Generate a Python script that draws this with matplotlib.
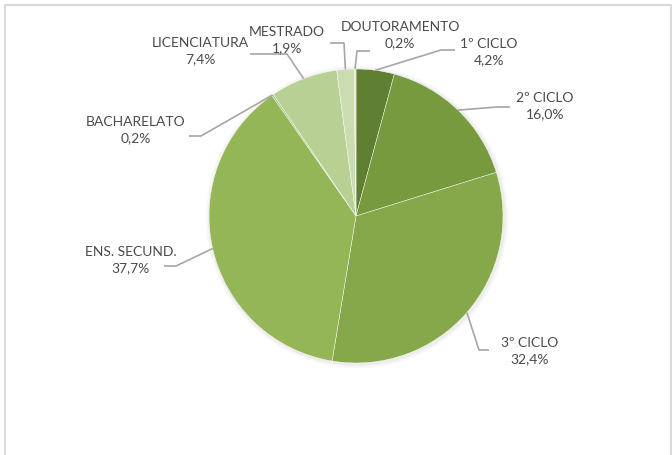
import matplotlib
matplotlib.use("Agg")
import matplotlib.pyplot as plt
import numpy as np
from matplotlib.patches import Rectangle

# dados do gráfico (habilitações)
categorias = ["1º CICLO", "2º CICLO", "3º CICLO", "ENS. SECUND.",
              "BACHARELATO", "LICENCIATURA", "MESTRADO", "DOUTORAMENTO"]
percentagens = [4.2, 16.0, 32.4, 37.7, 0.2, 7.4, 1.9, 0.2]
rotulos = ["4,2%", "16,0%", "32,4%", "37,7%", "0,2%", "7,4%", "1,9%", "0,2%"]
cores = ["#5f7f33", "#789a3f", "#86a84a", "#94b657",
         "#a6c46f", "#b8d093", "#cbdcb1", "#dde9cc"]

# posições das etiquetas em pixels (x, y a partir do topo) + cotovelo e fim da linha
pos_texto = [(489, 52), (545, 106), (530, 351), (131, 260),
             (136, 130), (200, 51), (287, 40), (400, 35)]
cotovelo = [(441, 50), (497, 107), (479, 350), (176, 266),
            (201, 136), (287, 54), (344, 43), (357, 51)]
fim_linha = [(455, 50), (510, 107), (489, 350), (164, 266),
             (189, 136), (250, 54), (330, 43), (370, 51)]

W, H = 672, 455
cx, cy, raio = 356, 216, 147

fig = plt.figure(figsize=(W / 100, H / 100), dpi=100)
ax = fig.add_axes([0, 0, 1, 1])

def px(p):  # converte coordenadas do topo para eixo y para cima
    return p[0], H - p[1]

# sombra suave
for k, a in [(4, 0.03), (2, 0.04)]:
    ax.add_patch(plt.Circle((cx + 1, H - cy - 1), raio + k, color="#000000", alpha=a, lw=0))

wedges, _ = ax.pie(percentagens, colors=cores, startangle=90, counterclock=False,
                   center=(cx, H - cy), radius=raio,
                   wedgeprops=dict(edgecolor="white", linewidth=0.3))

# moldura cinzenta
ax.add_patch(Rectangle((5, -20), 666, H - 5 + 20, fill=False, edgecolor="#d9d9d9", lw=1.5))

cum = np.cumsum([0] + percentagens[:-1])
for i, nome in enumerate(categorias):
    ang = np.deg2rad(90 - (cum[i] + percentagens[i] / 2) / 100 * 360)
    x0 = cx + raio * np.cos(ang); y0 = (H - cy) + raio * np.sin(ang)
    xs = [x0, px(cotovelo[i])[0], px(fim_linha[i])[0]]
    ys = [y0, px(cotovelo[i])[1], px(fim_linha[i])[1]]
    ax.plot(xs, ys, color="#a6a6a6", lw=1.2, solid_capstyle="butt")
    tx, ty = px(pos_texto[i])
    ax.text(tx, ty, f"{nome}\n{rotulos[i]}", ha="center", va="center",
            fontsize=10, family="Lato", color="#4a4a4a", linespacing=1.4)

ax.set_xlim(0, W); ax.set_ylim(0, H)
ax.set_aspect("equal"); ax.axis("off")

fig.savefig("out.png", dpi=100)
